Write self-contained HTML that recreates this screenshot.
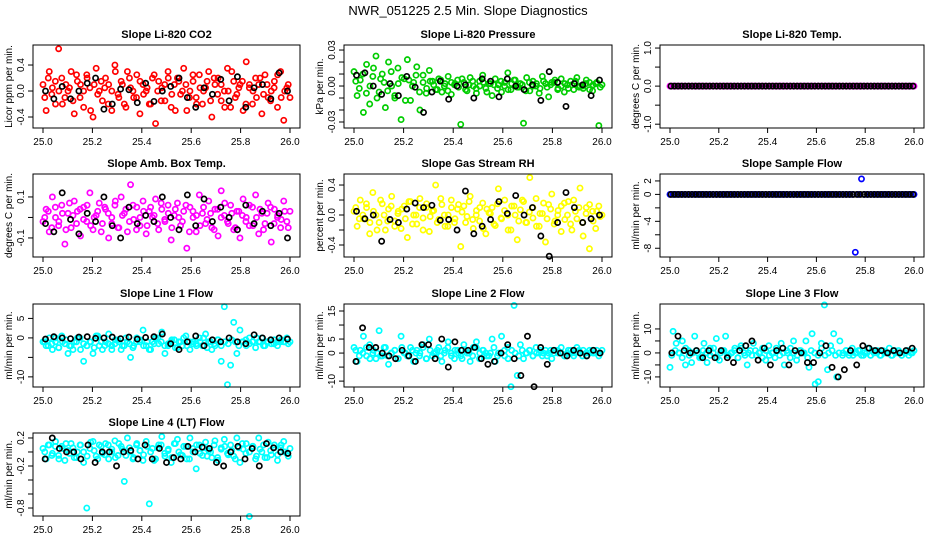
<!DOCTYPE html>
<html><head><meta charset="utf-8"><title>NWR_051225 2.5 Min. Slope Diagnostics</title>
<style>
html,body{margin:0;padding:0;background:#fff;}
svg{display:block;font-family:"Liberation Sans",Arial,sans-serif;}
</style></head>
<body>
<svg id="chart" width="936" height="540" viewBox="0 0 936 540" xmlns="http://www.w3.org/2000/svg">
<rect width="936" height="540" fill="#fff"/>
<text x="468" y="15" text-anchor="middle" font-size="13">NWR_051225  2.5 Min. Slope Diagnostics</text>
</svg>
<script>
const xTicks = [25.0, 25.2, 25.4, 25.6, 25.8, 26.0];
const xTickLabels = ["25.0","25.2","25.4","25.6","25.8","26.0"];

const co2Vals = [0.1,-0.3,0.3,0.05,-0.2,0.65,0.2,-0.1,0.0,0.3,-0.35,0.15,0.1,-0.25,0.25,0.05,-0.4,0.35,0.0,-0.15,0.2,0.1,-0.3,0.4,-0.05,0.15,-0.2,0.3,0.05,-0.1,0.25,-0.35,0.1,0.0,-0.2,0.2,-0.5,0.15,0.05,-0.15,0.3,-0.25,0.1,0.2,-0.05,0.35,-0.3,0.0,0.15,-0.1,0.25,-0.2,0.05,0.3,-0.4,0.1,0.2,-0.15,0.0,0.35,-0.25,0.15,-0.05,0.1,-0.3,0.45,0.05,-0.2,0.2,0.1,-0.35,0.25,-0.1,0.0,0.15,-0.25,0.3,-0.45,0.05,-0.1];
const co2ValsB = [-0.1,0.2,-0.05,0.15,0.0,-0.2,0.1,0.05,-0.15,0.25,-0.1,0.0,0.2,-0.3,0.1,-0.05,0.15,0.05,-0.2,0.0,0.3,-0.1,0.1,-0.25,0.2,0.0,-0.1,0.15,-0.05,0.05,-0.2,0.25,0.0,-0.15,0.1,0.2,-0.05,-0.3,0.15,0.0,0.1,-0.1,0.25,-0.2,0.05,0.0,0.15,-0.15,0.2,-0.05,0.1,-0.25,0.0,0.3,-0.1,0.05,0.15,-0.2,0.1,0.0,-0.1,0.2,-0.05,0.1,-0.15,0.05,0.25,-0.1,0.0,0.1];
const co2Ref = [0.0,-0.12,0.07,-0.12,0.0,0.12,0.2,-0.28,-0.2,0.03,0.02,-0.18,0.12,-0.16,0.0,0.07,0.2,-0.1,-0.25,0.05,-0.05,0.18,-0.15,0.22,-0.25,0.05,0.1,-0.12,0.28,0.0];

const presVals = [0.012,-0.008,0.005,-0.022,0.018,-0.015,0.008,0.025,-0.005,0.01,-0.018,0.02,0.0,-0.01,0.015,-0.028,0.006,0.022,-0.012,0.003,0.016,-0.02,0.009,-0.006,0.013,0.004,-0.003,0.006,-0.005,0.002,0.008,-0.007,0.001,0.005,-0.032,0.003,-0.004,0.007,0.0,-0.006,0.004,0.009,-0.002,0.002,-0.008,0.006,0.001,-0.005,0.003,0.011,-0.003,0.005,-0.001,0.002,-0.031,0.007,-0.004,0.004,0.0,-0.006,0.008,0.002,-0.009,0.003,0.005,-0.002,0.006,-0.005,0.001,0.004,-0.003,0.007,0.0,-0.002,0.005,0.003,-0.004,0.002,-0.033,0.001];
const presValsB = [0.004,-0.002,0.01,-0.006,0.0,0.015,-0.01,0.006,0.003,-0.004,0.012,-0.008,0.002,0.007,-0.012,0.005,0.0,0.009,-0.005,0.003,-0.002,0.004,0.001,-0.003,0.005,0.0,-0.004,0.003,0.002,-0.001,0.006,-0.003,0.001,0.004,-0.002,0.0,0.003,-0.005,0.002,0.001,-0.002,0.004,0.0,-0.003,0.002,0.005,-0.001,0.001,-0.004,0.003,0.0,0.002,-0.002,0.004,-0.001,0.001,0.003,-0.003,0.0,0.002,-0.002,0.001,0.004,-0.001,0.0,0.002,-0.003,0.001,0.003,-0.001];
const presRef = [0.009,0.011,0.0,-0.007,0.002,-0.008,0.008,-0.001,-0.022,-0.005,0.004,-0.011,0.0,0.001,-0.01,0.006,0.004,-0.009,0.006,0.0,-0.003,0.001,-0.012,0.012,0.003,-0.017,0.002,0.001,-0.008,0.005];

const tempVals = [0,0,0,0,0,0,0,0,0,0,0,0,0,0,0,0,0,0,0,0,0,0,0,0,0,0,0,0,0,0,0,0,0,0,0,0,0,0,0,0,0,0,0,0,0,0,0,0,0,0,0,0,0,0,0,0,0,0,0,0,0,0,0,0,0,0,0,0,0,0,0,0,0,0,0,0,0,0,0,0];
const tempRef = [0,0,0,0,0,0,0,0,0,0,0,0,0,0,0,0,0,0,0,0,0,0,0,0,0,0,0,0,0,0,0,0,0,0,0,0,0,0,0,0,0,0,0,0,0,0,0,0,0,0,0,0,0,0,0,0,0,0,0,0,0,0,0,0,0,0,0,0,0,0];

const boxVals = [-0.02,0.04,-0.07,0.1,0.0,-0.04,0.06,-0.13,0.02,-0.05,0.08,0.03,-0.09,0.05,-0.02,0.12,-0.06,0.01,0.07,-0.03,0.04,-0.1,0.0,0.06,-0.05,0.1,0.02,-0.07,0.16,-0.01,0.05,-0.04,0.08,-0.08,0.03,0.0,0.09,-0.06,0.04,-0.02,0.06,-0.11,0.01,0.07,-0.04,0.03,-0.15,0.05,0.0,-0.07,0.11,0.02,-0.03,0.08,-0.05,0.04,-0.09,0.13,0.01,-0.02,0.06,-0.06,0.03,-0.1,0.09,0.0,-0.04,0.05,0.11,-0.08,0.02,-0.03,0.07,-0.12,0.04,0.0,-0.05,0.08,-0.02,0.03];
const boxValsB = [0.0,0.03,-0.05,0.05,-0.02,0.02,-0.06,0.07,0.01,-0.03,0.04,-0.01,0.06,-0.04,0.0,0.03,-0.07,0.05,0.02,-0.03,0.08,-0.05,0.01,0.04,-0.02,0.06,-0.06,0.0,0.03,-0.04,0.05,0.01,-0.03,0.07,-0.01,0.02,-0.05,0.04,0.0,-0.02,0.06,-0.07,0.03,0.01,-0.04,0.05,-0.01,0.02,-0.06,0.04,0.0,0.07,-0.03,0.02,-0.05,0.03,0.01,-0.02,0.06,-0.04,0.0,0.04,-0.06,0.02,0.05,-0.03,0.01,-0.01,0.03,-0.05];
const boxRef = [-0.03,-0.07,0.12,-0.01,-0.08,0.02,-0.02,0.1,-0.04,-0.1,0.05,-0.03,0.01,-0.02,0.1,0.0,-0.06,0.11,-0.04,0.09,-0.02,0.05,0.0,-0.06,0.06,-0.03,0.03,-0.04,0.02,-0.1];

const rhVals = [0.05,-0.15,0.2,-0.05,0.1,-0.25,0.3,0.0,-0.1,0.15,-0.2,0.08,0.25,-0.08,0.02,-0.18,0.12,-0.3,0.18,0.0,-0.12,0.22,-0.04,0.1,-0.22,0.05,0.4,-0.06,0.14,-0.15,0.0,0.2,-0.1,0.08,-0.42,0.12,-0.02,0.25,-0.18,0.06,-0.08,0.16,-0.25,0.03,0.1,-0.14,0.35,-0.05,0.2,0.0,-0.2,0.12,-0.33,0.07,0.18,-0.1,0.5,-0.04,0.22,-0.15,0.02,-0.36,0.14,0.28,-0.08,0.06,-0.22,0.16,0.0,-0.12,0.2,-0.05,0.36,-0.28,0.1,-0.45,0.05,-0.18,0.12,0.0];
const rhValsB = [0.1,-0.05,0.0,0.15,-0.1,0.05,-0.2,0.2,0.0,-0.08,0.12,-0.15,0.05,0.08,-0.05,0.18,-0.12,0.0,0.1,-0.2,0.15,-0.02,0.06,-0.1,0.22,0.0,-0.15,0.1,-0.05,0.14,0.04,-0.1,0.18,-0.06,0.0,0.1,-0.18,0.08,0.02,-0.12,0.15,-0.04,0.06,-0.2,0.12,0.0,-0.08,0.2,-0.1,0.04,0.1,-0.15,0.02,0.16,-0.05,0.08,-0.12,0.0,0.12,-0.06,0.18,-0.2,0.05,0.1,-0.1,0.02,0.14,-0.08,0.05,-0.02];
const rhRef = [0.05,-0.05,0.0,-0.35,-0.06,-0.1,0.08,0.16,0.1,0.13,-0.07,-0.06,-0.2,0.32,-0.25,-0.15,-0.06,0.18,0.02,0.26,0.0,0.1,-0.28,-0.55,-0.1,0.3,0.1,-0.1,-0.05,0.0];

const sampleVals = [0,0,0,0,0,0,0,0,0,0,0,0,0,0,0,0,0,0,0,0,0,0,0,0,0,0,0,0,0,0,0,0,0,0,0,0,0,0,0,0,0,0,0,0,0,0,0,0,0,0,0,0,0,0,0,0,0,0,0,0,-8.6,0,2.3,0,0,0,0,0,0,0,0,0,0,0,0,0,0,0,0,0];
const sampleRef = [0,0,0,0,0,0,0,0,0,0,0,0,0,0,0,0,0,0,0,0,0,0,0,0,0,0,0,0,0,0,0,0,0,0,0,0,0,0,0,0,0,0,0,0,0,0,0,0,0,0,0,0,0,0,0,0,0,0,0,0,0,0,0,0,0,0,0,0,0,0];

const line1Vals = [-1,-2,0,-3,-1,-2.5,0.5,-1.5,-4,-2,-1,0,-3,-6,-2,-1,-4,0.5,-2,-3,-1,1,-2,-1.5,-0.5,-3,-2,-1,-5,-2,0,-1,2,-2,-3,-1,0,-1.5,1.5,-4,-2,-1,-0.5,-2.5,-1,0,-2,-3,-1,-1.5,0,-2,1,-1,-3,-2,-0.5,-6,8,-12,-7,4,-4,2,-1,-2,0,-1,-2.5,-1,0,-2,-1,-1.5,-0.5,-2,-1,-1,0,-1];
const line1ValsB = [-1,-2,-1.5,0,-2.5,-1,-0.5,-2,-3,-1,0,-1.5,-2,-1,-2.5,0.5,-1,-2,-1.5,-3,-0.5,-1,-2,0,-1.5,-2.5,-1,-0.5,-2,-1,-3,-1.5,0,-1,-2,-1.5,-0.5,-2.5,-1,-2,0.5,-1,-1.5,-2,-1,0,-2.5,-1,-1.5,-0.5,-2,-1,-1.5,-0.5,-1,-2,-1,-0.5,-1.5,-1,0,-1,-2,-1,-0.5,-1.5,-1,-0.5,-1,-1.5];
const line1Ref = [-0.3,0.3,0,-0.2,0.2,0.3,-0.1,0,0.2,-0.2,0.2,-0.3,0.1,0.3,1,-1.5,-3,-1,0.5,-2,-0.5,-1,0,-1,-1.5,0.8,0,-0.5,0,-0.3];

const line2Vals = [2,-3,1,6,-1,3,0,-2,8,-1,2,-4,0,1,-2,6,0,-1,2,-3,1,0,3,-2,5,-1,0,2,-3,1,4,0,-2,1,-1,3,0,-3,2,4,-2,1,0,-1,5,-3,0,6,-1,2,-12,17,-8,3,-2,0,1,-1,2,0,-1,1,0,-2,1,0,2,-1,0,1,-1,2,0,1,-1,0,1,0,-1,1];
const line2ValsB = [1,-1,0,2,-2,1,0,-1,2,-1,0,1,-2,2,0,-1,1,0,-1,2,-2,1,0,1,-1,0,2,-1,1,0,-2,1,0,-1,2,0,1,-1,0,2,-1,0,1,-2,1,0,-1,1,0,1,-1,0,1,0,-1,1,0,1,0,-1,1,0,0,1,-1,0,1,0,1,0];
const line2Ref = [-3,9,2,2,0,-1,-2,1,-1,-3,3,3,-2,5,-5,4,1,1,2,-2,-4,-3,0,3,-2,-8,6,-12,2,-4,1,0,-1,1,0,-1,1,0];

const line3Vals = [-6,9,4,0,5,-5,1,-4,7,0,-2,4,-4,2,0,6,-3,1,7,-1,0,2,-2,3,0,-5,1,4,-1,0,2,-3,3,0,-2,1,4,-5,0,2,5,-3,1,0,5,-6,8,-13,-12,4,20,-7,3,8,-10,5,0,1,-1,2,0,1,-1,0,2,-1,1,0,-1,1,0,2,-1,0,1,-1,0,1,0,1];
const line3ValsB = [-1,1,0,-2,2,-1,0,1,-2,1,0,-1,2,-2,0,1,-1,0,1,-2,2,-1,0,-1,1,0,-2,1,-1,0,2,-1,0,1,-2,0,-1,1,0,-2,1,0,-1,2,-1,0,1,-1,0,-1,1,0,-1,0,1,-1,0,-1,0,1,-1,0,0,-1,1,0,-1,0,-1,0];
const line3Ref = [0,7,1,0,1,-2,1,-2,1,-2,-4,1,3,5,-3,2,-5,1,2,-5,1,0,-4,-4,0,3,-6,-10,-7,1,-5,3,2,1,1,0,1,0,1,2];

const line4Vals = [0.05,-0.1,0.1,-0.02,0.15,-0.05,0.08,-0.12,0.02,0.12,-0.08,0.0,0.1,-0.15,-0.8,0.05,0.15,-0.06,0.1,-0.02,0.12,-0.1,0.04,0.16,-0.05,0.08,-0.42,0.2,0.0,-0.08,0.12,0.02,-0.12,0.15,-0.74,0.05,-0.1,0.1,0.22,-0.06,0.02,-0.15,0.12,0.18,-0.04,0.08,-0.1,0.2,0.0,-0.24,0.1,-0.05,0.14,0.02,-0.08,0.16,-0.12,0.06,0.18,-0.02,0.1,-0.06,0.2,-0.15,0.04,0.12,-0.92,0.08,-0.1,0.2,0.0,-0.08,0.14,-0.04,0.1,-0.12,0.06,0.15,-0.02,0.05];
const line4ValsB = [0.0,0.1,-0.05,0.08,-0.1,0.05,0.12,-0.02,0.06,-0.08,0.1,0.0,-0.06,0.14,0.02,-0.1,0.08,-0.04,0.1,0.0,-0.08,0.12,0.04,-0.05,0.06,-0.1,0.1,0.02,-0.04,0.08,0.0,-0.12,0.06,0.1,-0.02,0.04,-0.08,0.12,0.0,-0.05,0.08,-0.1,0.05,0.1,-0.02,0.06,-0.06,0.0,0.1,-0.08,0.04,0.08,-0.04,0.02,-0.1,0.06,0.12,-0.02,0.0,0.08,-0.06,0.04,0.1,-0.08,0.02,0.06,-0.04,0.1,0.0,-0.06];
const line4Ref = [-0.1,0.2,0.05,0.0,0.0,-0.1,0.1,-0.15,0.0,0.0,-0.2,0.0,0.02,-0.1,0.1,-0.1,0.05,-0.15,-0.08,-0.1,0.08,0.0,0.07,0.05,-0.15,-0.2,0.0,0.08,-0.1,0.05,-0.2,0.12,0.06,0.0,-0.02];

const co2Ticks = [-0.4,0.0,0.4];
const co2TickLabels = ["-0.4","0.0","0.4"];
const presTicks = [-0.03,-0.02,-0.01,0.0,0.01,0.02,0.03];
const presTickLabels = ["-0.03","","","0.00","","","0.03"];
const tempTicks = [-1.0,-0.5,0.0,0.5,1.0];
const tempTickLabels = ["-1.0","","0.0","","1.0"];
const boxTicks = [-0.1,0.0,0.1];
const boxTickLabels = ["-0.1","","0.1"];
const rhTicks = [-0.4,-0.2,0.0,0.2,0.4];
const rhTickLabels = ["-0.4","","0.0","","0.4"];
const sampleTicks = [-8,-6,-4,-2,0,2];
const sampleTickLabels = ["-8","","-4","","0","2"];
const line1Ticks = [-10,-5,0,5];
const line1TickLabels = ["-10","","0","5"];
const line2Ticks = [-10,-5,0,5,10,15];
const line2TickLabels = ["-10","","0","5","","15"];
const line3Ticks = [-10,-5,0,5,10];
const line3TickLabels = ["-10","","0","","10"];
const line4Ticks = [-0.8,-0.6,-0.4,-0.2,0.0,0.2];
const line4TickLabels = ["-0.8","","","-0.2","","0.2"];

const NS = "http://www.w3.org/2000/svg";
const svg = document.getElementById('chart');
function mk(tag, attrs, parent) {
  const e = document.createElementNS(NS, tag);
  for (const k in attrs) e.setAttribute(k, attrs[k]);
  (parent || svg).appendChild(e);
  return e;
}
const cols = [[33,300],[344,612],[660,924]];
const rows = [[45,128],[174,257],[304,387],[433,516]];

const panels = [
  {name:'co2', title:'Slope Li-820 CO2', ylab:'Licor ppm per min.', c:0, r:0, dom:[-0.569,0.708], vals:co2Vals, valsB:co2ValsB, ref:co2Ref, color:'#ff0000', ticks:co2Ticks, labels:co2TickLabels},
  {name:'pressure', title:'Slope Li-820 Pressure', ylab:'kPa per min.', c:1, r:0, dom:[-0.035,0.0342], vals:presVals, valsB:presValsB, ref:presRef, color:'#00cd00', ticks:presTicks, labels:presTickLabels},
  {name:'temp', title:'Slope Li-820 Temp.', ylab:'degrees C per min.', c:2, r:0, dom:[-1.1,1.08], vals:tempVals, valsB:[], ref:tempRef, color:'#ff00ff', ticks:tempTicks, labels:tempTickLabels},
  {name:'amb-box-temp', title:'Slope Amb. Box Temp.', ylab:'degrees C per min.', c:0, r:1, dom:[-0.193,0.212], vals:boxVals, valsB:boxValsB, ref:boxRef, color:'#ff00ff', ticks:boxTicks, labels:boxTickLabels},
  {name:'gas-stream-rh', title:'Slope Gas Stream RH', ylab:'percent per min.', c:1, r:1, dom:[-0.56,0.547], vals:rhVals, valsB:rhValsB, ref:rhRef, color:'#ffff00', ticks:rhTicks, labels:rhTickLabels},
  {name:'sample-flow', title:'Slope Sample Flow', ylab:'ml/min per min.', c:2, r:1, dom:[-9.3,3.03], vals:sampleVals, valsB:[], ref:sampleRef, color:'#0000ff', ticks:sampleTicks, labels:sampleTickLabels},
  {name:'line1-flow', title:'Slope Line 1 Flow', ylab:'ml/min per min.', c:0, r:2, dom:[-12.6,8.7], vals:line1Vals, valsB:line1ValsB, ref:line1Ref, color:'#00ffff', ticks:line1Ticks, labels:line1TickLabels},
  {name:'line2-flow', title:'Slope Line 2 Flow', ylab:'ml/min per min.', c:1, r:2, dom:[-12.1,17.5], vals:line2Vals, valsB:line2ValsB, ref:line2Ref, color:'#00ffff', ticks:line2Ticks, labels:line2TickLabels},
  {name:'line3-flow', title:'Slope Line 3 Flow', ylab:'ml/min per min.', c:2, r:2, dom:[-14.2,20.4], vals:line3Vals, valsB:line3ValsB, ref:line3Ref, color:'#00ffff', ticks:line3Ticks, labels:line3TickLabels},
  {name:'line4-flow', title:'Slope Line 4 (LT) Flow', ylab:'ml/min per min.', c:0, r:3, dom:[-0.914,0.271], vals:line4Vals, valsB:line4ValsB, ref:line4Ref, color:'#00ffff', ticks:line4Ticks, labels:line4TickLabels}
];

panels.forEach(p => {
  const [x0,x1] = cols[p.c], [y0,y1] = rows[p.r];
  const g = mk('g', {});
  
  
  const xs = v => (x0 + 10) + (v - 25) * ((x1 - 10) - (x0 + 10));
  const ys = v => y1 - (v - p.dom[0]) / (p.dom[1] - p.dom[0]) * (y1 - y0);
  const t = mk('text', {x:(x0+x1)/2, y:y0-7, 'text-anchor':'middle', 'font-size':'11', 'font-weight':'bold'}, g);
  t.textContent = p.title;
  
  
  const yl = mk('text', {x:0, y:0, transform:`translate(${x0-21},${(y0+y1)/2}) rotate(-90)`, 'text-anchor':'middle', 'font-size':'10'}, g);
  yl.textContent = p.ylab;
  
  
  const pts = mk('g', {fill:'none', stroke:p.color, 'stroke-width':'1.7'}, g);
  
  
  p.vals.forEach((v, i) => {
    const c = mk('circle', {cx:xs(25 + i/(p.vals.length-1)), cy:ys(v), r:'2.6'}, pts);
    
    
  });
  p.valsB.forEach((v, i) => {
    const c = mk('circle', {cx:xs(25 + (i+0.5)/(p.valsB.length)), cy:ys(v), r:'2.6'}, pts);
    
    
  });
  const bpts = mk('g', {fill:'none', stroke:'#000', 'stroke-width':'1.7'}, g);
  
  
  p.ref.forEach((v, i) => {
    const c = mk('circle', {cx:xs(25 + (i+0.3)/(p.ref.length-0.4)), cy:ys(v), r:'2.6'}, bpts);
    
    
  });
  const b = mk('rect', {x:x0, y:y0, width:x1-x0, height:y1-y0, fill:'none', stroke:'#000', 'stroke-width':'1'}, g);
  
  
  const xa = mk('g', {'font-size':'10'}, g);
  
  
  mk('line', {x1:xs(xTicks[0]), x2:xs(xTicks[xTicks.length-1]), y1:y1, y2:y1, stroke:'#000'}, xa);
  xTicks.forEach((v, i) => {
    mk('line', {x1:xs(v), x2:xs(v), y1:y1, y2:y1+5, stroke:'#000'}, xa);
    const l = mk('text', {x:xs(v), y:y1+17, 'text-anchor':'middle'}, xa);
    l.textContent = xTickLabels[i];
    
    
  });
  const ya = mk('g', {'font-size':'10'}, g);
  
  
  mk('line', {x1:x0, x2:x0, y1:ys(p.ticks[0]), y2:ys(p.ticks[p.ticks.length-1]), stroke:'#000'}, ya);
  p.ticks.forEach((v, i) => {
    mk('line', {x1:x0-5, x2:x0, y1:ys(v), y2:ys(v), stroke:'#000'}, ya);
    if (p.labels[i]) {
      const l = mk('text', {x:0, y:0, transform:`translate(${x0-9},${ys(v)}) rotate(-90)`, 'text-anchor':'middle'}, ya);
      l.textContent = p.labels[i];
      
      
    }
  });
});
</script>
</body></html>
